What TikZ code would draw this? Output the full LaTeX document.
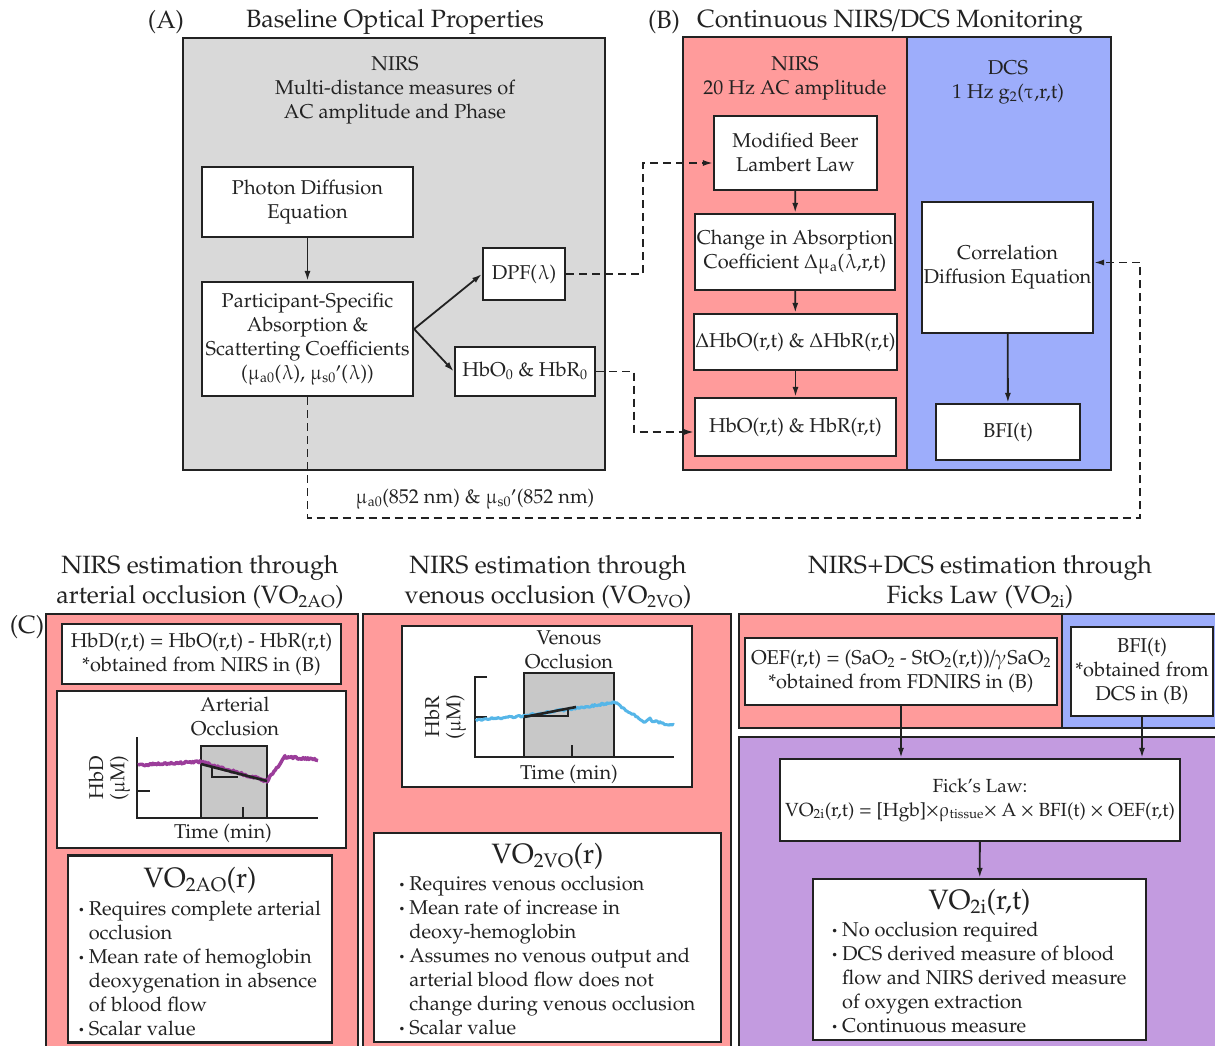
\documentclass[tikz,border=0pt]{standalone}
\usepackage[T1]{fontenc}
\usepackage{pxfonts}
\usetikzlibrary{arrows.meta,calc}
\definecolor{grayA}{HTML}{D9D9D9}
\definecolor{pinkP}{HTML}{FF9B9B}
\definecolor{blueP}{HTML}{9DADFB}
\definecolor{purpP}{HTML}{C39BE0}
\definecolor{chartG}{HTML}{C8C8C8}
\definecolor{curveP}{HTML}{9B3D9A}
\definecolor{curveB}{HTML}{56B6E8}
\definecolor{ink}{HTML}{222222}
\newcommand{\fs}{\fontsize{20}{24}\selectfont}
\newcommand{\fsm}{\fontsize{19}{24}\selectfont}
\newcommand{\ft}{\fontsize{25}{30}\selectfont}
\newcommand{\fh}{\fontsize{28}{31}\selectfont}
\newcommand{\bdot}{\raisebox{0.3ex}{\fontsize{9}{9}\selectfont$\bullet$}}
\newcommand{\sub}[1]{\textsubscript{#1}}
\newcommand{\mU}{\ensuremath{\muup}}
\newcommand{\lU}{\ensuremath{\lambdaup}}
\newenvironment{blist}{\begin{tabular}{@{}l@{\hspace{5pt}}l@{}}}{\end{tabular}}
\begin{document}
\begin{tikzpicture}[x=1pt,y=-1pt,
  every node/.style={font=\fs, text=ink, inner sep=0pt},
  box/.style={draw=ink, line width=2.2pt, fill=white, align=center},
  panel/.style={draw=ink, line width=2.6pt},
  arr/.style={draw=ink, -{Latex[length=10pt,width=6pt]}, line width=1.8pt},
  dsh/.style={draw=ink, dash pattern=on 8pt off 5pt, line width=1.7pt},
  ttl/.style={font=\ft, align=center},
  axis/.style={draw=ink, line width=1.3pt}]
\useasboundingbox (0,0) rectangle (1215,1046);
\clip (0,0) rectangle (1215,1046);

% ---------------- Panel A
\node[ttl] (labA) at (166,22) {(A)};
\node[ttl] (titA) at (395,22) {Baseline Optical Properties};
\draw[panel, fill=grayA] (183,38) rectangle (605,470);
\node[align=center] (nirsA) at (395,90) {NIRS\\Multi-distance measures of\\AC amplitude and Phase};
\node[box, minimum width=211pt, minimum height=70pt] (pde) at (307.5,202) {Photon Diffusion\\Equation};
\node[box, minimum width=211pt, minimum height=114pt] (psc) at (307.5,339) {Participant-Specific\\Absorption \&\\Scatterting Coefficients\\(\mU\sub{a0}(\lU), \mU\sub{s0}$'$(\lU))};
\node[box, minimum width=82pt, minimum height=52pt] (dpf) at (524,274) {DPF(\lU)};
\node[box, minimum width=140pt, minimum height=49pt] (hbz) at (525,371.5) {HbO\sub{0} \& HbR\sub{0}};
\draw[arr] (pde) -- (psc);
\coordinate (fork) at ($(psc.east)+(0,-10)$);
\draw[arr] (fork) -- (dpf.west);
\draw[arr] (fork) -- (hbz.west);

% ---------------- Panel B
\node[ttl] (labB) at (664,22) {(B)};
\node[ttl] (titB) at (890,22) {Continuous NIRS/DCS Monitoring};
\draw[panel, fill=pinkP] (683,37) rectangle (907,470);
\draw[panel, fill=blueP] (907,37) rectangle (1111,470);
\node[align=center] (nirsB) at (795,78) {NIRS\\20 Hz AC amplitude};
\node[align=center] (dcsB) at (1008,82) {DCS\\1 Hz g\sub{2}($\tauup$,r,t)};
\node[box, minimum width=163pt, minimum height=74pt] (mbl) at (795.5,153) {Modified Beer\\Lambert Law};
\node[box, minimum width=200pt, minimum height=76pt] (cia) at (795,252) {Change in Absorption\\Coefficient $\Delta$\mU\sub{a}(\lU,r,t)};
\node[box, minimum width=203pt, minimum height=56pt] (dhb) at (795.5,342) {$\Delta$HbO(r,t) \& $\Delta$HbR(r,t)};
\node[box, minimum width=201pt, minimum height=58pt] (hbo) at (795.5,427) {HbO(r,t) \& HbR(r,t)};
\node[box, minimum width=171pt, minimum height=131pt] (cde) at (1007.5,267.5) {Correlation\\Diffusion Equation};
\node[box, minimum width=144pt, minimum height=56pt] (bfi) at (1008,432) {BFI(t)};
\draw[arr] (mbl) -- (cia);
\draw[arr] (cia) -- (dhb);
\draw[arr] (dhb) -- (hbo);
\draw[arr] (cde) -- (bfi);

% dashed connectors
\coordinate (mblin) at ($(mbl.west)+(0,10)$);
\draw[dsh, -{Latex[length=10pt,width=6pt]}] (dpf.east) -- ++(77,0) |- (mblin);
\coordinate (hboin) at ($(hbo.west)+(0,5)$);
\draw[dsh, -{Latex[length=10pt,width=6pt]}] (hbz.east) -- ++(38,0) |- (hboin);
\coordinate (dl) at (307.5,518);
\coordinate (dr) at (1140,518);
\coordinate (cdein) at ($(cde.east)+(0,-5)$);
\draw[dsh, -{Latex[length=10pt,width=6pt]}] (psc.south) -- (dl) -- (dr) |- (cdein);
\node (lbl) at (475,499) {\mU\sub{a0}(852 nm) \& \mU\sub{s0}$'$(852 nm)};

% ---------------- Panel C titles
\node[ttl] (titC1) at (200,582) {NIRS estimation through\\arterial occlusion (VO\sub{2AO})};
\node[ttl] (titC2) at (548,582) {NIRS estimation through\\venous occlusion (VO\sub{2VO})};
\node[ttl] (titC3) at (980,582) {NIRS+DCS estimation through\\Ficks Law (VO\sub{2i})};
\node[ttl] (labC) at (27,627) {(C)};

\draw[panel, fill=pinkP] (46,614) rectangle (358,1070);
\draw[panel, fill=pinkP] (363,614) rectangle (731,1070);
\draw[panel, fill=pinkP] (739,614) rectangle (1062,728);
\draw[panel, fill=blueP] (1062,614) rectangle (1230,728);
\draw[panel, fill=purpP] (739,737) rectangle (1230,1070);

% ---- left column
\node[box, minimum width=279pt, minimum height=60pt] (hbd) at (201.5,654) {HbD(r,t) = HbO(r,t) - HbR(r,t)\\*obtained from NIRS in (B)};
\node[box, minimum width=289pt, minimum height=157pt] (ch1) at (201.5,769.5) {};
\node[align=center] (ch1t) at (235,717) {Arterial\\Occlusion};
\draw[axis, fill=chartG] (201,746) rectangle (267,818);
\draw[axis] (137,737) -- (137,818) -- (318,818);
\draw[axis] (137,791) -- (150,791);
\draw[axis] (243,807) -- (243,818);
\pgfmathsetseed{11}
\draw[curveP, line width=3.5pt, line join=round]
  plot[domain=138:201, samples=60] (\x,{765-0.05*(\x-138)+1.2*rand})
  -- plot[domain=201:267, samples=60] (\x,{762+(\x-201)*0.29+1.2*rand})
  -- plot[domain=267:285, samples=14] (\x,{781-(\x-267)*1.35+1.2*rand})
  -- plot[domain=285:318, samples=30] (\x,{757+0.08*(\x-285)+1.2*rand});
\draw[draw=ink, line width=2.6pt] (201,764) -- (267,781);
\draw[draw=ink, line width=1.4pt] (212,768) -- (212,777) -- (238,777);
\node[rotate=90] (hbdl) at (96,778) {HbD};
\node[rotate=90] (hbdu) at (120,778) {(\mU M)};
\node (tm1) at (223,833) {Time (min)};
\node[box, minimum width=264pt, minimum height=182pt] (vao) at (200,949)
 {\rule{0pt}{32pt}{\fh VO\sub{2AO}(r)}\\[4pt]
  \begin{blist}
  \bdot & Requires complete arterial\\
        & occlusion\\
  \bdot & Mean rate of hemoglobin\\
        & deoxygenation in absence\\
        & of blood flow\\
  \bdot & Scalar value
  \end{blist}};

% ---- middle column
\node[box, minimum width=290pt, minimum height=161pt] (ch2) at (547,706.5) {};
\node[align=center] (ch2t) at (569,650) {Venous\\Occlusion};
\draw[axis, fill=chartG] (524,673) rectangle (614,757);
\draw[axis] (487,677) -- (475,677) -- (475,757) -- (674,757);
\draw[axis] (475,717) -- (487,717);
\draw[axis] (572,745) -- (572,757);
\draw[curveB, line width=3pt, line join=round]
  plot[domain=476:524, samples=45] (\x,{720-(\x-476)*0.08+1.1*rand})
  -- plot[domain=524:614, samples=80] (\x,{716-(\x-524)*0.15+1.1*rand})
  -- plot[domain=614:645, samples=25] (\x,{702+(\x-614)*0.65+1.1*rand})
  -- (650,718)
  -- plot[domain=652:674, samples=20] (\x,{721+(\x-652)*0.2+1.1*rand});
\draw[draw=ink, line width=2.6pt] (524,717) -- (576,707);
\draw[draw=ink, line width=1.4pt] (524,716) -- (568,716) -- (568,710);
\node[rotate=90] (hbrl) at (432,717) {HbR};
\node[rotate=90] (hbru) at (456,717) {(\mU M)};
\node (tm2) at (569,774) {Time (min)};
\node[box, minimum width=347pt, minimum height=205pt] (vvo) at (547.5,937.5)
 {\rule{0pt}{30pt}{\fh VO\sub{2VO}(r)}\\[4pt]
  \begin{blist}
  \bdot & Requires venous occlusion\\
  \bdot & Mean rate of increase in\\
        & deoxy-hemoglobin\\
  \bdot & Assumes no venous output and\\
        & arterial blood flow does not\\
        & change during venous occlusion\\
  \bdot & Scalar value
  \end{blist}};

% ---- right column
\node[box, minimum width=312pt, minimum height=67pt] (oef) at (901,671.5) {OEF(r,t) = (SaO\sub{2} - StO\sub{2}(r,t))/$\gammaup$SaO\sub{2}\\*obtained from FDNIRS in (B)};
\node[box, minimum width=142pt, minimum height=89pt] (bfic) at (1142,671.5) {BFI(t)\\*obtained from\\DCS in (B)};
\node[box, font=\fsm, minimum width=400pt, minimum height=82pt] (fick) at (980,800) {Fick's Law:\\VO\sub{2i}(r,t) = [Hgb]$\times\rhoup$\sub{tissue}$\times$ A $\times$ BFI(t) $\times$ OEF(r,t)};
\node[box, minimum width=333pt, minimum height=161pt] (vvi) at (979.5,959.5)
 {\rule{0pt}{30pt}{\fh VO\sub{2i}(r,t)}\\[4pt]
  \begin{blist}
  \bdot & No occlusion required\\
  \bdot & DCS derived measure of blood\\
        & flow and NIRS derived measure\\
        & of oxygen extraction\\
  \bdot & Continuous measure
  \end{blist}};
\coordinate (oefin) at (oef.south |- fick.north);
\coordinate (bfiin) at (bfic.south |- fick.north);
\draw[arr] (oef.south) -- (oefin);
\draw[arr] (bfic.south) -- (bfiin);
\draw[arr] (fick) -- (vvi);
\end{tikzpicture}
\end{document}
